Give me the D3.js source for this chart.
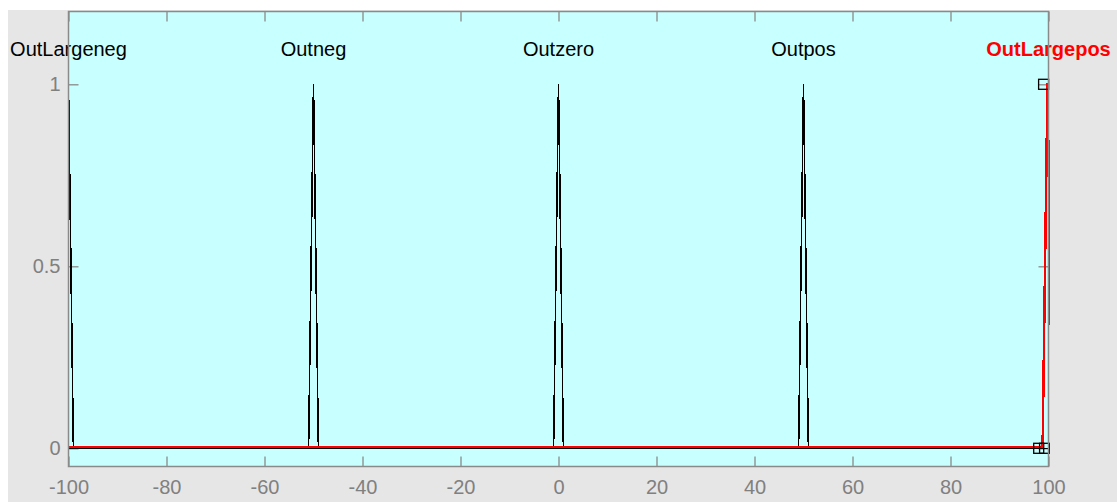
<!DOCTYPE html>
<html><head><meta charset="utf-8">
<script src="https://cdn.jsdelivr.net/npm/d3@7"></script>
<style>
html,body{margin:0;padding:0;background:#fff;}
svg{display:block;}
</style></head>
<body>
<svg id="chart" width="1117" height="502"></svg>
<script>
// ---- data ----
const mfNames = ["OutLargeneg", "Outneg", "Outzero", "Outpos", "OutLargepos"];
const mfParams = [[-101, -100, -99], [-51, -50, -49], [-1, 0, 1], [49, 50, 51], [99, 100, 101]];
const selectedMF = "OutLargepos";
const selectedMarkers = [[99, 1], [98, 0], [99.2, 0]];
const xTicks = [-100, -80, -60, -40, -20, 0, 20, 40, 60, 80, 100];
const yTicks = [0, 0.5, 1];
const xDomain = [-100, 100];
const yDomain = [-0.05, 1.2];

// ---- layout ----
const W = 1117, H = 502;
const L = 68.5, R = 1048.5, T = 11.5, B = 466.5;
const svg = d3.select("#chart");
svg.append("rect").attr("x", 8).attr("y", 10).attr("width", W - 8).attr("height", H - 10).attr("fill", "#e6e6e6");

const x = d3.scaleLinear().domain(xDomain).range([L, R]);
const y = d3.scaleLinear().domain(yDomain).range([B, T]);

const defs = svg.append("defs");
defs.append("clipPath").attr("id", "clip")
  .append("rect").attr("x", L).attr("y", T).attr("width", R - L).attr("height", B - T);
defs.append("clipPath").attr("id", "clipSel")
  .append("rect").attr("x", L).attr("y", T).attr("width", R - L + 1.5).attr("height", B - T);

svg.append("rect").attr("x", L).attr("y", T).attr("width", R - L).attr("height", B - T).attr("fill", "#c8ffff");

const tickLen = 10;
const axisColor = "#8a8a8a";
const font = "'Liberation Sans', Arial, sans-serif";
const fmt = d => String(d);

// axes via d3
const xAxisB = d3.axisBottom(x).tickValues(xTicks).tickSizeInner(-tickLen).tickSizeOuter(0).tickPadding(13).tickFormat(fmt);
const xAxisT = d3.axisTop(x).tickValues(xTicks).tickSizeInner(-tickLen).tickSizeOuter(0).tickFormat("");
const yAxisL = d3.axisLeft(y).tickValues(yTicks).tickSizeInner(-tickLen).tickSizeOuter(0).tickPadding(8).tickFormat(fmt);
const yAxisR = d3.axisRight(y).tickValues(yTicks).tickSizeInner(-tickLen).tickSizeOuter(0).tickFormat("");

function styleAxis(g) {
  g.select(".domain").remove();
  g.selectAll("line").attr("stroke", axisColor).attr("stroke-width", 1.3);
  g.selectAll("text").attr("fill", "#808080").attr("font-family", font).attr("font-size", 20);
}
svg.append("g").attr("transform", `translate(0,${B})`).call(xAxisB).call(styleAxis);
svg.append("g").attr("transform", `translate(0,${T})`).call(xAxisT).call(styleAxis);
svg.append("g").attr("transform", `translate(${L},0)`).call(yAxisL).call(styleAxis);
svg.append("g").attr("transform", `translate(${R},0)`).call(yAxisR).call(styleAxis);

// membership function lines
const line = d3.line().x(d => x(d[0])).y(d => y(d[1]));
const plot = svg.append("g").attr("clip-path", "url(#clip)");
const plotSel = svg.append("g").attr("clip-path", "url(#clipSel)");
mfNames.forEach((name, i) => {
  const [a, b, c] = mfParams[i];
  const pts = [[xDomain[0], 0], [a, 0], [b, 1], [c, 0], [xDomain[1], 0]];
  const sel = name === selectedMF;
  (sel ? plotSel : plot).append("path").datum(pts)
    .attr("d", line)
    .attr("fill", "none")
    .attr("stroke", sel ? "#ff0000" : "#000")
    .attr("stroke-width", sel ? 2.5 : 1.6)
    .attr("transform", sel ? "translate(-1,-1.5)" : null)
    .attr("shape-rendering", "crispEdges");
});

// markers for selected mf
const ms = 10;
svg.append("g").attr("clip-path", "url(#clipSel)").selectAll("rect.m").data(selectedMarkers).join("rect")
  .attr("x", d => x(d[0]) - ms / 2).attr("y", d => y(d[1]) - ms / 2)
  .attr("width", ms).attr("height", ms)
  .attr("fill", "none").attr("stroke", "#000").attr("stroke-width", 1.3);

// labels
svg.append("g").selectAll("text").data(mfNames).join("text")
  .attr("x", (d, i) => x(mfParams[i][1]))
  .attr("y", y(1.1))
  .attr("dy", "0.38em")
  .attr("text-anchor", "middle")
  .attr("font-family", font)
  .attr("font-size", 20)
  .attr("font-weight", d => d === selectedMF ? "bold" : "normal")
  .attr("fill", d => d === selectedMF ? "#ff0000" : "#000")
  .text(d => d);

// box
svg.append("rect").attr("x", L).attr("y", T).attr("width", R - L).attr("height", B - T)
  .attr("fill", "none").attr("stroke", axisColor).attr("stroke-width", 1.5);
</script>
</body></html>
